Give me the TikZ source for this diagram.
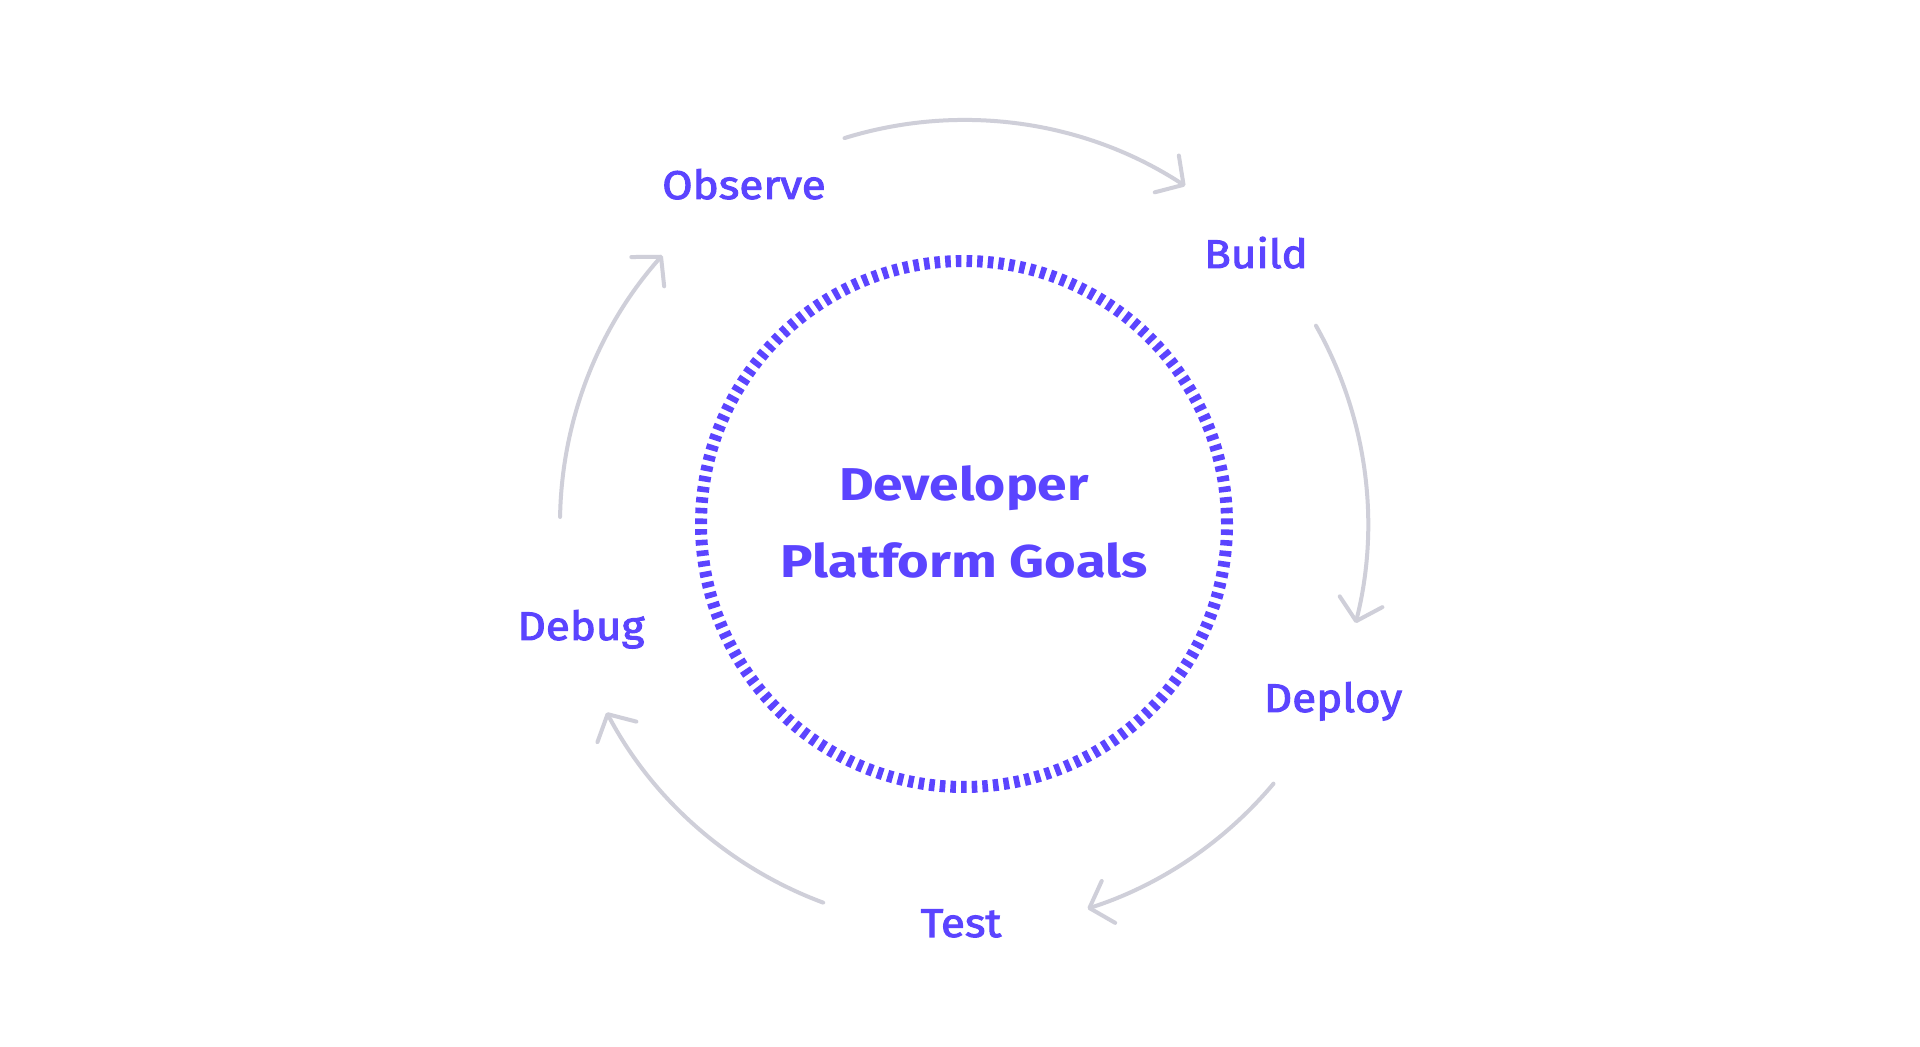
\documentclass[tikz,border=0pt]{standalone}
\usepackage{fontspec}
\usetikzlibrary{arrows.meta}
\newfontfamily\lblfont[FakeBold=2.5,FakeStretch=1.1]{Fira Sans}
\newfontfamily\ctrfont[FakeStretch=1.16]{Fira Sans}
\newfontfamily\ctrfontb[FakeStretch=1.18]{Fira Sans}
\definecolor{purp}{HTML}{5B44FF}
\definecolor{arrgray}{HTML}{CFCFD9}
\tikzset{
  lbl/.style={text=purp, font=\lblfont\fontsize{40}{46}\selectfont, anchor=base, inner sep=0pt},
  ctr/.style={text=purp, font=\ctrfont\bfseries\fontsize{46}{54}\selectfont, anchor=base, inner sep=0pt},
  ctrb/.style={text=purp, font=\ctrfontb\bfseries\fontsize{46}{54}\selectfont, anchor=base, inner sep=0pt},
  cyc/.style={draw=arrgray, line width=4pt, line cap=round,
    -{Straight Barb[length=20pt,width=44pt,round]}},
  ring/.style={draw=purp, line width=12pt, dash pattern=on 5.6pt off 5.06pt}
}
\begin{document}
\begin{tikzpicture}[x=1pt,y=1pt]
\useasboundingbox (0,0) rectangle (1920,1047);
\fill[white] (0,0) rectangle (1920,1047);
\coordinate (C) at (964,523);
\draw[ring] (C) circle[radius=263];
\node[ctr] (dev) at (964,546) {Developer};
\node[ctrb] (plat) at (964,469) {Platform Goals};
\node[lbl] (observe) at (744,848) {Observe};
\node[lbl] (build) at (1256,779) {Build};
\node[lbl] (deploy) at (1333,335) {Deploy};
\node[lbl] (test) at (961,110) {Test};
\node[lbl] (debug) at (581,407) {Debug};
\path (C) ++(107.2:404) coordinate (a1);
\path (C) ++(29.4:404) coordinate (a2);
\path (C) ++(-40:404) coordinate (a3);
\path (C) ++(-110.4:404) coordinate (a4);
\path (C) ++(179:404) coordinate (a5);
\draw[cyc] (a1) arc[start angle=107.2, end angle=56.8, radius=404];
\draw[cyc] (a2) arc[start angle=29.4, end angle=-14.2, radius=404];
\draw[cyc] (a3) arc[start angle=-40, end angle=-72.2, radius=404];
\draw[cyc] (a4) arc[start angle=-110.4, end angle=-152.2, radius=404];
\draw[cyc] (a5) arc[start angle=179, end angle=138.3, radius=404];
\end{tikzpicture}
\end{document}
